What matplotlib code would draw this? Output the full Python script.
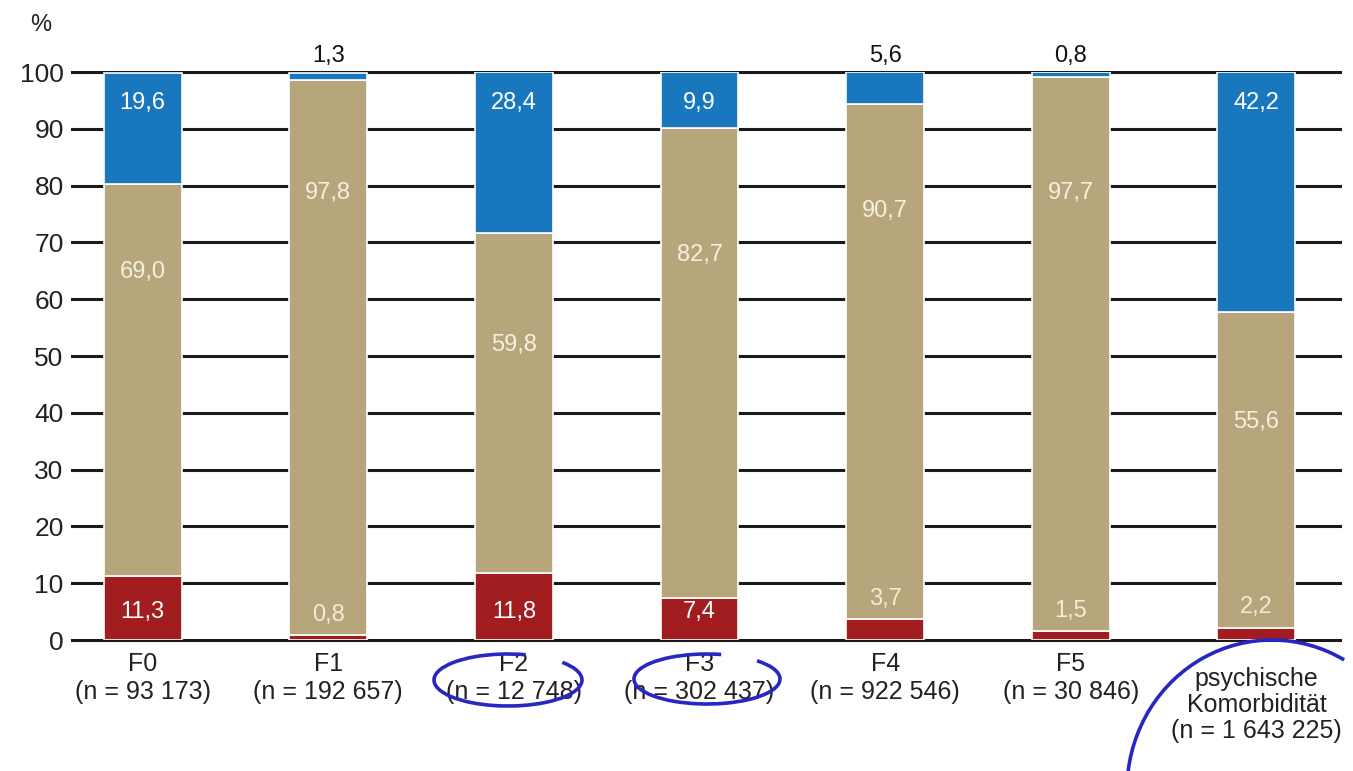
import matplotlib
matplotlib.use("Agg")
import matplotlib.pyplot as plt
from matplotlib.patches import Arc
from matplotlib import font_manager

# ---- data ----
categories = ["F0", "F1", "F2", "F3", "F4", "F5", "psychische\nKomorbidität"]
n_labels = ["(n = 93 173)", "(n = 192 657)", "(n = 12 748)", "(n = 302 437)",
            "(n = 922 546)", "(n = 30 846)", "(n = 1 643 225)"]
red = [11.3, 0.8, 11.8, 7.4, 3.7, 1.5, 2.2]
tan = [69.0, 97.8, 59.8, 82.7, 90.7, 97.7, 55.6]
blue = [19.6, 1.3, 28.4, 9.9, 5.6, 0.8, 42.2]
yticks = list(range(0, 101, 10))

# ---- layout (label positions in data units) ----
tan_label_y = [64.8, 78.7, 51.9, 67.8, 75.5, 78.7, 38.4]

names = {f.name for f in font_manager.fontManager.ttflist}
fam = "Liberation Sans Narrow" if "Liberation Sans Narrow" in names else "Liberation Sans"
plt.rcParams["font.family"] = [fam, "DejaVu Sans"]

C_BLUE = "#1877bd"
C_TAN = "#b7a67c"
C_RED = "#a11d1f"

W, H = 1353, 771
fig = plt.figure(figsize=(W / 100, H / 100), dpi=100)
ax = fig.add_axes([72 / W, 1 - 640 / H, (1340 - 72) / W, (640 - 72) / H])

x = list(range(len(categories)))
bw = 0.42
ax.bar(x, red, bw, color=C_RED, edgecolor="white", linewidth=1.2, zorder=3)
ax.bar(x, tan, bw, bottom=red, color=C_TAN, edgecolor="white", linewidth=1.2, zorder=3)
bot2 = [r + t for r, t in zip(red, tan)]
ax.bar(x, blue, bw, bottom=bot2, color=C_BLUE, edgecolor="white", linewidth=1.2, zorder=3)

ax.set_xlim(-0.38, 6.45)
ax.set_ylim(0, 100)
ax.set_yticks(yticks)
ax.set_yticklabels([str(v) for v in yticks], fontsize=19, color="#222222")
ax.tick_params(axis="y", length=0, pad=6)
ax.set_xticks([])
ax.yaxis.grid(True, color="#1a1a1a", linewidth=2.2)
for gl in ax.get_ygridlines():
    gl.set_clip_on(False)
ax.set_axisbelow(True)
for s in ax.spines.values():
    s.set_visible(False)

fmt = lambda v: f"{v:.1f}".replace(".", ",")
for i in x:
    # red
    if red[i] >= 5:
        ax.text(i, 4.9, fmt(red[i]), ha="center", va="center", color="white", fontsize=17, zorder=5)
    else:
        ax.text(i, red[i] + 3.6, fmt(red[i]), ha="center", va="center", color="#f3ecd6", fontsize=17, zorder=5)
    # tan
    ax.text(i, tan_label_y[i], fmt(tan[i]), ha="center", va="center", color="#f6f0de", fontsize=17, zorder=5)
    # blue
    if blue[i] >= 9:
        ax.text(i, 94.6, fmt(blue[i]), ha="center", va="center", color="white", fontsize=17, zorder=5)
    else:
        ax.text(i, 100.9, fmt(blue[i]), ha="center", va="bottom", color="#111111", fontsize=17,
                zorder=5, clip_on=False)

# x labels
for i in x:
    txt = categories[i] + "\n" + n_labels[i]
    if "\n" in categories[i]:
        ax.text(i, -4.7, txt, ha="center", va="top", fontsize=18, color="#222222",
                linespacing=1.12, clip_on=False)
    else:
        ax.text(i, -2.2, txt, ha="center", va="top", fontsize=18, color="#222222",
                linespacing=1.18, clip_on=False)

fig.text(30 / W, 1 - 25 / H, "%", fontsize=17, color="#222222", ha="left", va="center")

# hand-drawn annotation circles (pixel -> inches)
def arc(cx, cy, w, h, t1, t2):
    a = Arc((cx / 100, (H - cy) / 100), w / 100, h / 100, theta1=t1, theta2=t2,
            transform=fig.dpi_scale_trans, color="#2727c4", linewidth=2.6, zorder=10)
    fig.add_artist(a)

arc(508, 680, 148, 52, 55, 378)
arc(707, 679, 146, 50, 60, 380)
arc(1272, 790, 290, 300, 61, 176)

fig.savefig("out.png", dpi=100, facecolor="white")
